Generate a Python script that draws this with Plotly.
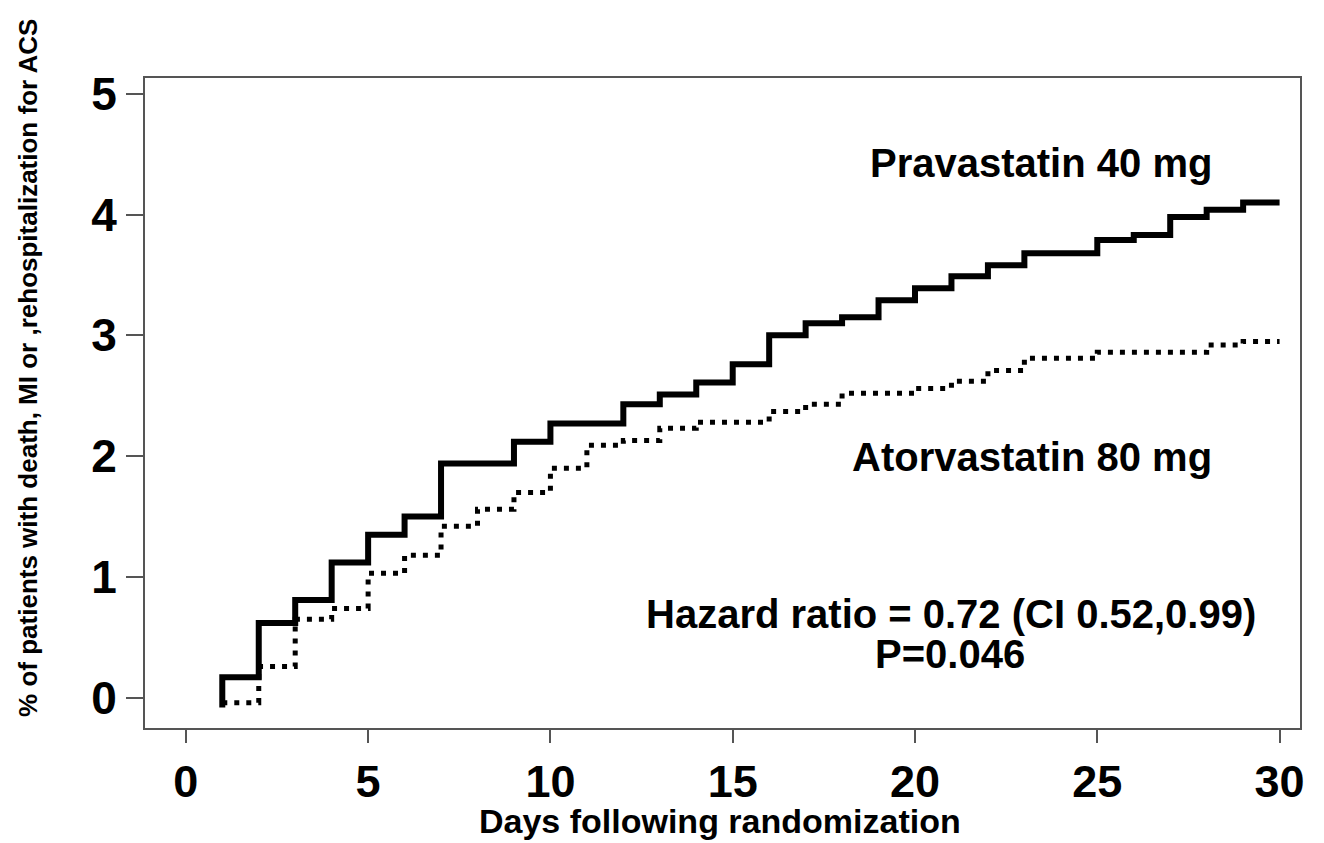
import plotly.graph_objects as go

# Data (step curves, change at integer days)
prava_days = [1, 1, 2, 3, 4, 5, 6, 7, 8, 9, 10, 11, 12, 13, 14, 15, 16, 17, 18, 19, 20,
              21, 22, 23, 24, 25, 26, 27, 28, 29, 30]
prava_pct = [-0.08, 0.17, 0.62, 0.81, 1.12, 1.35, 1.50, 1.94, 1.94, 2.12, 2.27, 2.27, 2.43,
             2.51, 2.61, 2.76, 3.00, 3.10, 3.15, 3.29, 3.39, 3.49, 3.58, 3.68, 3.68, 3.79,
             3.83, 3.98, 4.04, 4.10, 4.10]

atorva_days = [1, 2, 3, 4, 5, 6, 7, 8, 9, 10, 11, 12, 13, 14, 15, 16, 17, 18, 19, 20,
               21, 22, 23, 24, 25, 26, 27, 28, 29, 30]
atorva_pct = [-0.04, 0.26, 0.65, 0.74, 1.03, 1.18, 1.42, 1.56, 1.70, 1.90, 2.09, 2.13,
              2.23, 2.28, 2.28, 2.37, 2.43, 2.52, 2.52, 2.56, 2.62, 2.71, 2.81, 2.81,
              2.86, 2.86, 2.86, 2.92, 2.95, 2.95]

x_ticks = [0, 5, 10, 15, 20, 25, 30]
y_ticks = [0, 1, 2, 3, 4, 5]

x_title = "Days following randomization"
y_title = "% of patients with death, MI or ,rehospitalization for ACS"

FONT = "Liberation Sans, Arial, sans-serif"

fig = go.Figure()
fig.add_trace(go.Scatter(x=prava_days, y=prava_pct, mode="lines", line_shape="hv",
                         line=dict(color="black", width=6), name="Pravastatin 40 mg"))
fig.add_trace(go.Scatter(x=atorva_days, y=atorva_pct, mode="lines", line_shape="hv",
                         line=dict(color="black", width=5, dash="5px,7px"),
                         name="Atorvastatin 80 mg"))

annots = [
    dict(x=23.45, y=4.43, text="Pravastatin 40 mg", size=40),
    dict(x=23.22, y=1.99, text="Atorvastatin 80 mg", size=40),
    dict(x=20.98, y=0.69, text="Hazard ratio = 0.72 (CI 0.52,0.99)", size=40),
    dict(x=20.95, y=0.36, text="P=0.046", size=40),
]
for a in annots:
    fig.add_annotation(x=a["x"], y=a["y"], text=a["text"], showarrow=False,
                       font=dict(family=FONT, size=a["size"], color="black", weight="bold"),
                       xanchor="center", yanchor="middle")

# axis titles as paper-positioned annotations
fig.add_annotation(xref="paper", yref="paper", x=0.498, y=-0.1435, text=x_title,
                   showarrow=False, xanchor="center", yanchor="middle",
                   font=dict(family=FONT, size=34, color="black", weight="bold"))
fig.add_annotation(xref="paper", yref="paper", x=-0.1013, y=0.554, text=y_title,
                   showarrow=False, xanchor="center", yanchor="middle", textangle=-90,
                   font=dict(family=FONT, size=26, color="black", weight="bold"))

axis_common = dict(showline=True, mirror=True, linecolor="#555555", linewidth=2,
                   ticks="outside", tickwidth=2, tickcolor="#555555",
                   showgrid=False, zeroline=False, automargin=False)

fig.update_xaxes(range=[-1.12, 30.56], tickvals=x_ticks, ticktext=[str(v) for v in x_ticks],
                 tickfont=dict(family=FONT, size=45, color="black", weight="bold"),
                 ticklen=13, **axis_common)
fig.update_yaxes(range=[-0.25, 5.13], tickvals=y_ticks, ticktext=[str(v) for v in y_ticks],
                 tickfont=dict(family=FONT, size=46, color="black", weight="bold"),
                 ticklen=17, **axis_common)

fig.update_layout(width=1324, height=843, margin=dict(l=145, r=24, t=78, b=115),
                  paper_bgcolor="white", plot_bgcolor="white", showlegend=False)

fig.write_html("out.html")
